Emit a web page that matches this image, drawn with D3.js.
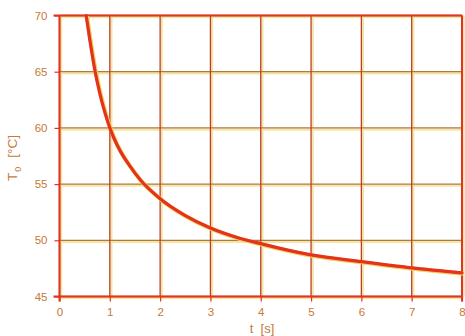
<!DOCTYPE html>
<html>
<head>
<meta charset="utf-8">
<script src="https://cdn.jsdelivr.net/npm/d3@7"></script>
<style>
  html, body { margin: 0; padding: 0; background: #ffffff; }
  svg { display: block; }
  text { font-family: "Liberation Sans", Arial, sans-serif; }
</style>
</head>
<body>
<svg id="chart" width="465" height="336"></svg>
<script>
// ---- data ----
const timeS = [0.53, 0.6, 0.7, 0.8, 0.9, 1.0, 1.1, 1.2, 1.4, 1.6, 2.0, 2.5, 3.0, 3.5, 4.0, 5.0, 6.0, 7.0, 8.0];
const tempC = [70.0, 67.9, 65.2, 63.1, 61.4, 60.0, 58.9, 58.0, 56.6, 55.4, 53.7, 52.2, 51.1, 50.3, 49.7, 48.7, 48.1, 47.55, 47.1];
const xTicks = [0, 1, 2, 3, 4, 5, 6, 7, 8];
const yTicks = [45, 50, 55, 60, 65, 70];
const xTitle = "t  [s]";
const yTitleMain = "T";
const yTitleSub = "0";
const yTitleUnit = "[°C]";

const svg = d3.select("#chart");
const x = d3.scaleLinear().domain([0, 8]).range([59.5, 462]);
const y = d3.scaleLinear().domain([45, 70]).range([296.5, 15.5]);

const labelColor = "#c47a38";
const gridV = "#bc3f2c";
const gridH = "#b07a3c";
const halo = "#f4e6a8";
const frame = "#e2341f";

// halo (print misregistration look)
svg.append("g").selectAll("line").data(xTicks).join("line")
  .attr("x1", d => x(d) + 1.5).attr("x2", d => x(d) + 1.5)
  .attr("y1", y(70)).attr("y2", y(45))
  .attr("stroke", halo).attr("stroke-width", 2.5);
svg.append("g").selectAll("line").data(yTicks).join("line")
  .attr("x1", x(0)).attr("x2", x(8))
  .attr("y1", d => y(d) + 1.5).attr("y2", d => y(d) + 1.5)
  .attr("stroke", halo).attr("stroke-width", 2.5);

// grid
svg.append("g").selectAll("line").data(yTicks).join("line")
  .attr("x1", x(0)).attr("x2", x(8))
  .attr("y1", d => y(d)).attr("y2", d => y(d))
  .attr("stroke", gridH).attr("stroke-width", 1.3);
svg.append("g").selectAll("line").data(xTicks).join("line")
  .attr("x1", d => x(d)).attr("x2", d => x(d))
  .attr("y1", y(70)).attr("y2", y(45))
  .attr("stroke", gridV).attr("stroke-width", 1.3);

// frame (top, bottom, left, right)
svg.append("line").attr("x1", x(0) - 6).attr("x2", x(8)).attr("y1", y(70)).attr("y2", y(70))
  .attr("stroke", frame).attr("stroke-width", 2);
svg.append("line").attr("x1", x(0) - 6).attr("x2", x(8)).attr("y1", y(45)).attr("y2", y(45))
  .attr("stroke", frame).attr("stroke-width", 2);
svg.append("line").attr("x1", x(0)).attr("x2", x(0)).attr("y1", y(70)).attr("y2", y(45) + 5)
  .attr("stroke", frame).attr("stroke-width", 2);
svg.append("line").attr("x1", x(8)).attr("x2", x(8)).attr("y1", y(70)).attr("y2", y(45) + 5)
  .attr("stroke", frame).attr("stroke-width", 2);

// axes (ticks + labels)
const yAxis = d3.axisLeft(y).tickValues(yTicks).tickSize(5).tickPadding(7).tickFormat(d3.format("d"));
const gy = svg.append("g").attr("transform", `translate(${x(0)},0)`).call(yAxis);
gy.select(".domain").remove();
gy.selectAll(".tick line").attr("stroke", frame).attr("stroke-width", 1.2);
gy.selectAll(".tick text").attr("fill", labelColor).attr("font-size", 11.5)
  .attr("font-family", "Liberation Sans, Arial, sans-serif");

const xAxis = d3.axisBottom(x).tickValues(xTicks).tickSize(5).tickPadding(6).tickFormat(d3.format("d"));
const gx = svg.append("g").attr("transform", `translate(0,${y(45)})`).call(xAxis);
gx.select(".domain").remove();
gx.selectAll(".tick line").attr("stroke", frame).attr("stroke-width", 1.2);
gx.selectAll(".tick text").attr("fill", labelColor).attr("font-size", 11.5)
  .attr("font-family", "Liberation Sans, Arial, sans-serif");

// curve
const line = d3.line().x((d, i) => x(timeS[i])).y(d => y(d)).curve(d3.curveMonotoneX);
svg.append("path").datum(tempC)
  .attr("d", line)
  .attr("fill", "none").attr("stroke", "#f2d060").attr("stroke-width", 4.2)
  .attr("transform", "translate(0.8,0.8)");
svg.append("path").datum(tempC)
  .attr("d", line)
  .attr("fill", "none").attr("stroke", "#e4321c").attr("stroke-width", 3.2)
  .attr("stroke-linecap", "round");

// axis titles
svg.append("text").attr("x", 262).attr("y", 333).attr("text-anchor", "middle")
  .attr("fill", labelColor).attr("font-size", 13).attr("xml:space", "preserve").text(xTitle);

const yt = svg.append("text")
  .attr("transform", "translate(17,158) rotate(-90)")
  .attr("text-anchor", "middle").attr("fill", labelColor).attr("font-size", 13.5);
yt.append("tspan").text(yTitleMain);
yt.append("tspan").attr("font-size", 9).attr("dy", 4).attr("dx", 1).text(yTitleSub);
yt.append("tspan").attr("dy", -4).attr("dx", 9).text(yTitleUnit);
</script>
</body>
</html>
